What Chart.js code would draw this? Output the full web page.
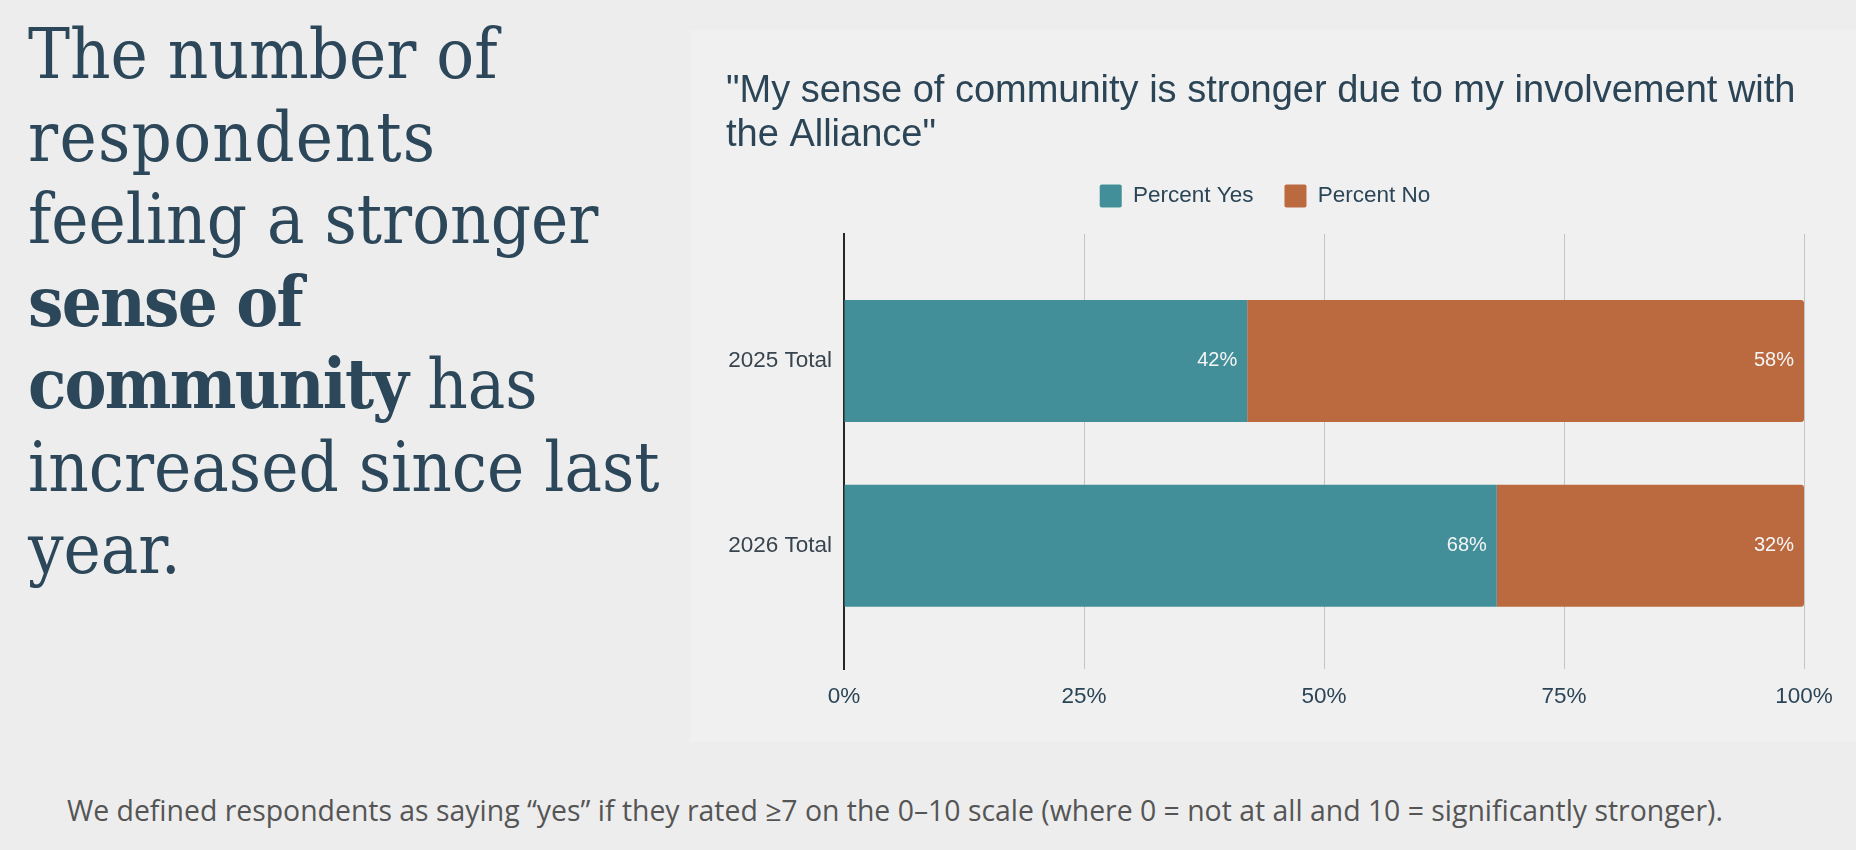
<!DOCTYPE html>
<html>
<head>
<meta charset="utf-8">
<script src="https://cdn.jsdelivr.net/npm/chart.js@4"></script>
<style>
  html, body { margin: 0; padding: 0; }
  body { width: 1856px; height: 850px; background: #ededed; position: relative; overflow: hidden; }
  .headline {
    position: absolute; left: 28px; top: 13px;
    font-family: "DejaVu Serif Condensed", "DejaVu Serif", serif;
    font-size: 70px; line-height: 82.5px; color: #2b4759;
  }
  .headline b { font-weight: bold; letter-spacing: -1.75px; }
  .panel { position: absolute; left: 690px; top: 30px; width: 1166px; height: 712px; background: #f0f0f0; }
  .panel canvas { display: block; }
  .note {
    position: absolute; left: 67px; top: 791px;
    font-family: "Open Sans", sans-serif; font-size: 28.4px; color: #555555;
  }
</style>
</head>
<body>
<div class="headline">The number of<br><span style="letter-spacing:1.3px">respondents</span><br>feeling a stronger<br><b>sense of</b><br><b>community</b> has<br>increased since last<br>year.</div>
<div class="panel"><canvas id="chart" width="1166" height="712"></canvas></div>
<div class="note">We defined respondents as saying “yes” if they rated ≥7 on the 0–10 scale (where 0 = not at all and 10 = significantly stronger).</div>
<script>
const categories = ['2025 Total', '2026 Total'];
const percentYes = [42, 68];
const percentNo = [58, 32];
const xTicks = [0, 25, 50, 75, 100];

const TEXT = '#2b4557';
const SANS = '"Liberation Sans", Arial, sans-serif';

// percentage labels drawn inside the end of each bar segment
const barLabels = {
  id: 'barLabels',
  afterDatasetsDraw(chart) {
    const ctx = chart.ctx;
    ctx.save();
    ctx.font = '20px ' + SANS;
    ctx.fillStyle = '#f5f5f5';
    ctx.textAlign = 'right';
    ctx.textBaseline = 'middle';
    chart.data.datasets.forEach((ds, di) => {
      chart.getDatasetMeta(di).data.forEach((bar, i) => {
        ctx.fillText(ds.data[i].x + '%', bar.x - 10, bar.y);
      });
    });
    ctx.restore();
  }
};

// a bit of room between the legend and the plot
const legendGap = {
  id: 'legendGap',
  beforeInit(chart) {
    const fit = chart.legend.fit;
    chart.legend.fit = function () {
      fit.call(this);
      this.height += 16.5;
    };
  }
};

new Chart(document.getElementById('chart'), {
  type: 'bar',
  data: {
    datasets: [
      {
        label: 'Percent Yes',
        data: percentYes.map((v, i) => ({ x: v, y: i })),
        backgroundColor: '#428f99'
      },
      {
        label: 'Percent No',
        data: percentNo.map((v, i) => ({ x: v, y: i })),
        backgroundColor: '#bb6a40',
        borderRadius: 3
      }
    ]
  },
  options: {
    indexAxis: 'y',
    responsive: false,
    animation: false,
    barPercentage: 1,
    categoryPercentage: 0.66,
    layout: { padding: { left: 36, right: 52, top: 30, bottom: 18 } },
    plugins: {
      tooltip: { enabled: false },
      title: {
        display: true,
        align: 'start',
        text: ['"My sense of community is stronger due to my involvement with', 'the Alliance"'],
        color: TEXT,
        font: { family: SANS, size: 38, weight: 'normal', lineHeight: 1.158 },
        padding: { top: 10, bottom: -4.5 }
      },
      legend: {
        position: 'top',
        labels: {
          color: TEXT,
          font: { family: SANS, size: 22.5 },
          boxWidth: 22,
          boxHeight: 23,
          useBorderRadius: true,
          borderRadius: 2,
          padding: 31
        }
      }
    },
    scales: {
      x: {
        type: 'linear',
        stacked: true,
        min: 0,
        max: 100,
        afterBuildTicks: (scale) => { scale.ticks = xTicks.map(v => ({ value: v })); },
        ticks: {
          callback: (v) => v + '%',
          color: TEXT,
          font: { family: SANS, size: 22.5 },
          padding: 14
        },
        grid: { color: '#c4c4c4', lineWidth: 1, drawTicks: false },
        border: { display: false }
      },
      y: {
        type: 'linear',
        stacked: true,
        reverse: true,
        offset: false,
        min: -0.687,
        max: 1.667,
        afterBuildTicks: (scale) => { scale.ticks = categories.map((c, i) => ({ value: i })); },
        afterFit: (scale) => { scale.width = 118; },
        ticks: {
          callback: (v) => categories[v],
          color: '#38444e',
          font: { family: SANS, size: 22.5 },
          padding: 12
        },
        grid: { display: false, drawTicks: false },
        border: { display: true, color: '#262626', width: 2 }
      }
    }
  },
  plugins: [barLabels, legendGap]
});
</script>
</body>
</html>
